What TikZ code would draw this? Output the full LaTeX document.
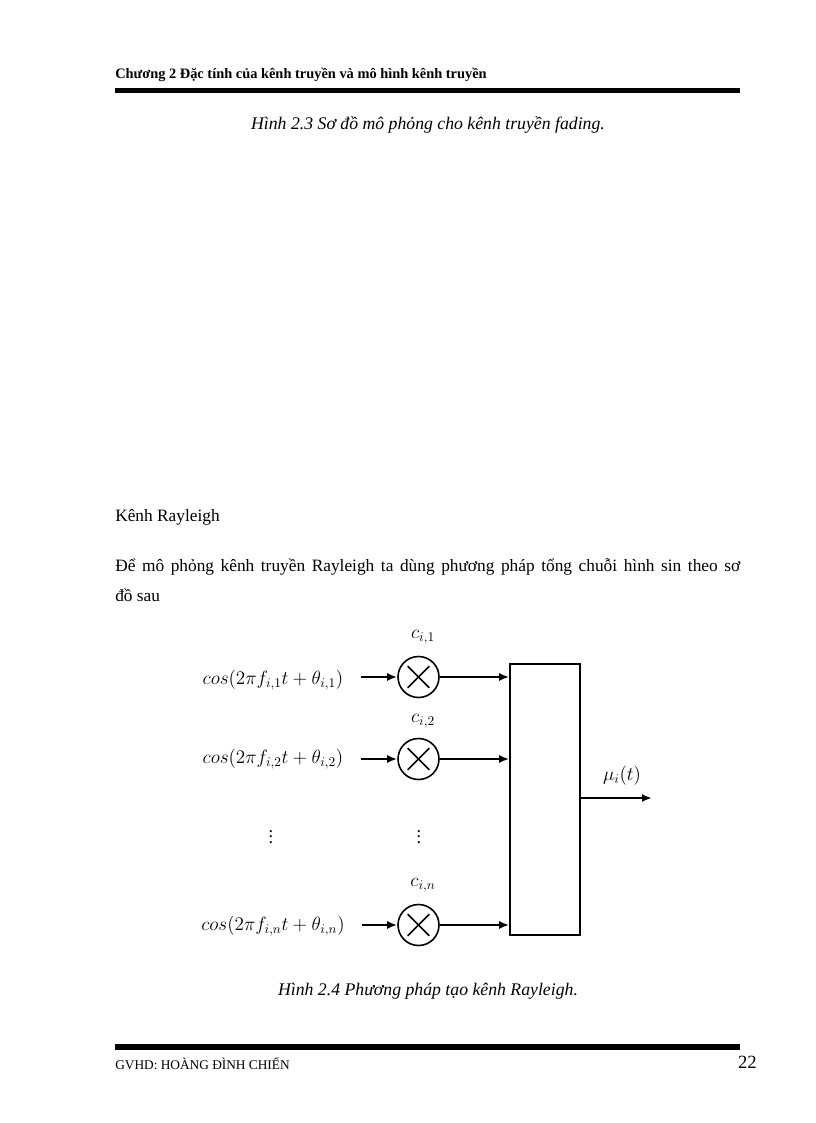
\documentclass[tikz,border=0pt]{standalone}
\usepackage{fontspec}
\setmainfont{Liberation Serif}
\usetikzlibrary{arrows.meta,calc}
\begin{document}
\begin{tikzpicture}[x=0.75pt,y=-0.75pt,
  body/.style={anchor=base west, inner sep=0pt, font=\fontsize{13}{15}\selectfont},
  capt/.style={anchor=base, inner sep=0pt, font=\fontsize{13.3}{15}\selectfont\itshape},
  expr/.style={inner sep=0pt, font=\fontsize{13.6}{16}\selectfont},
  mult/.style={circle, draw, line width=1.2pt, minimum size=30.75pt, inner sep=0pt},
  arr/.style={line width=1.5pt, -{Latex[length=7.5pt,width=6pt]}},
  lin/.style={line width=1.5pt}]
\useasboundingbox (0,0) rectangle (816,1123);
% header
\node[anchor=base west, inner sep=0pt, font=\fontsize{10.8}{12}\selectfont\bfseries] (hdr) at (115,79) {Chương 2 Đặc tính của kênh truyền và mô hình kênh truyền};
\fill (115,88) rectangle (740,93);
\node[capt] (cap1) at (428,130) {Hình 2.3 Sơ đồ mô phỏng cho kênh truyền fading.};
% body text
\node[body] (sec) at (115,521) {Kênh Rayleigh};
\node[body] (par1) at (115,571) {\makebox[468.75pt][s]{Để mô phỏng kênh truyền Rayleigh ta dùng phương pháp tổng chuỗi hình sin theo sơ}};
\node[body] (par2) at (115,601) {đồ sau};
% diagram
\node[expr] (cos1) at (273,680) {$cos\bigl(2\pi f_{i,1}t+\theta_{i,1}\bigr)$};
\node[expr] (cos2) at (273,759) {$cos\bigl(2\pi f_{i,2}t+\theta_{i,2}\bigr)$};
\node[expr] (cosn) at (273,926) {$cos\bigl(2\pi f_{i,n}t+\theta_{i,n}\bigr)$};
\node[expr] (vd1) at (271,833) {$\vdots$};
\node[expr] (vd2) at (419,833) {$\vdots$};
\node[mult] (m1) at (418.5,677) {};
\node[mult] (m2) at (418.5,759) {};
\node[mult] (mn) at (418.5,925) {};
\foreach \m in {m1,m2,mn}{
  \draw[line width=1.2pt] ($(\m)!0.72!(\m.45)$) -- ($(\m)!0.72!(\m.225)$);
  \draw[line width=1.2pt] ($(\m)!0.72!(\m.135)$) -- ($(\m)!0.72!(\m.315)$);
}
\node[expr] (c1) at (423,637) {$c_{i,1}$};
\node[expr] (c2) at (423,721) {$c_{i,2}$};
\node[expr] (cn) at (423,885) {$c_{i,n}$};
\node[draw, line width=1.2pt, minimum width=52.5pt, minimum height=203.25pt, inner sep=0pt] (sum) at (545,799.5) {};
\node[expr] (mu) at (622,776) {$\mu_i(t)$};
\coordinate (out) at (652,798);
\draw[arr, shorten <=13pt] (cos1.east |- m1.west) -- (m1.west);
\draw[arr, shorten <=13pt] (cos2.east |- m2.west) -- (m2.west);
\draw[arr, shorten <=13pt] (cosn.east |- mn.west) -- (mn.west);
\draw[arr] (m1.east) -- (m1.east -| sum.west);
\draw[arr] (m2.east) -- (m2.east -| sum.west);
\draw[arr] (mn.east) -- (mn.east -| sum.west);
\draw[arr] (sum.east |- out) -- (out);
\node[capt] (cap2) at (428,995) {Hình 2.4 Phương pháp tạo kênh Rayleigh.};
% footer
\fill (115,1044) rectangle (740,1050);
\node[anchor=base west, inner sep=0pt, font=\fontsize{10}{12}\selectfont] (ftr) at (115,1069) {GVHD: HOÀNG ĐÌNH CHIẾN};
\node[anchor=base east, inner sep=0pt, font=\fontsize{14}{16}\selectfont] (pg) at (757,1068) {22};
\end{tikzpicture}
\end{document}
